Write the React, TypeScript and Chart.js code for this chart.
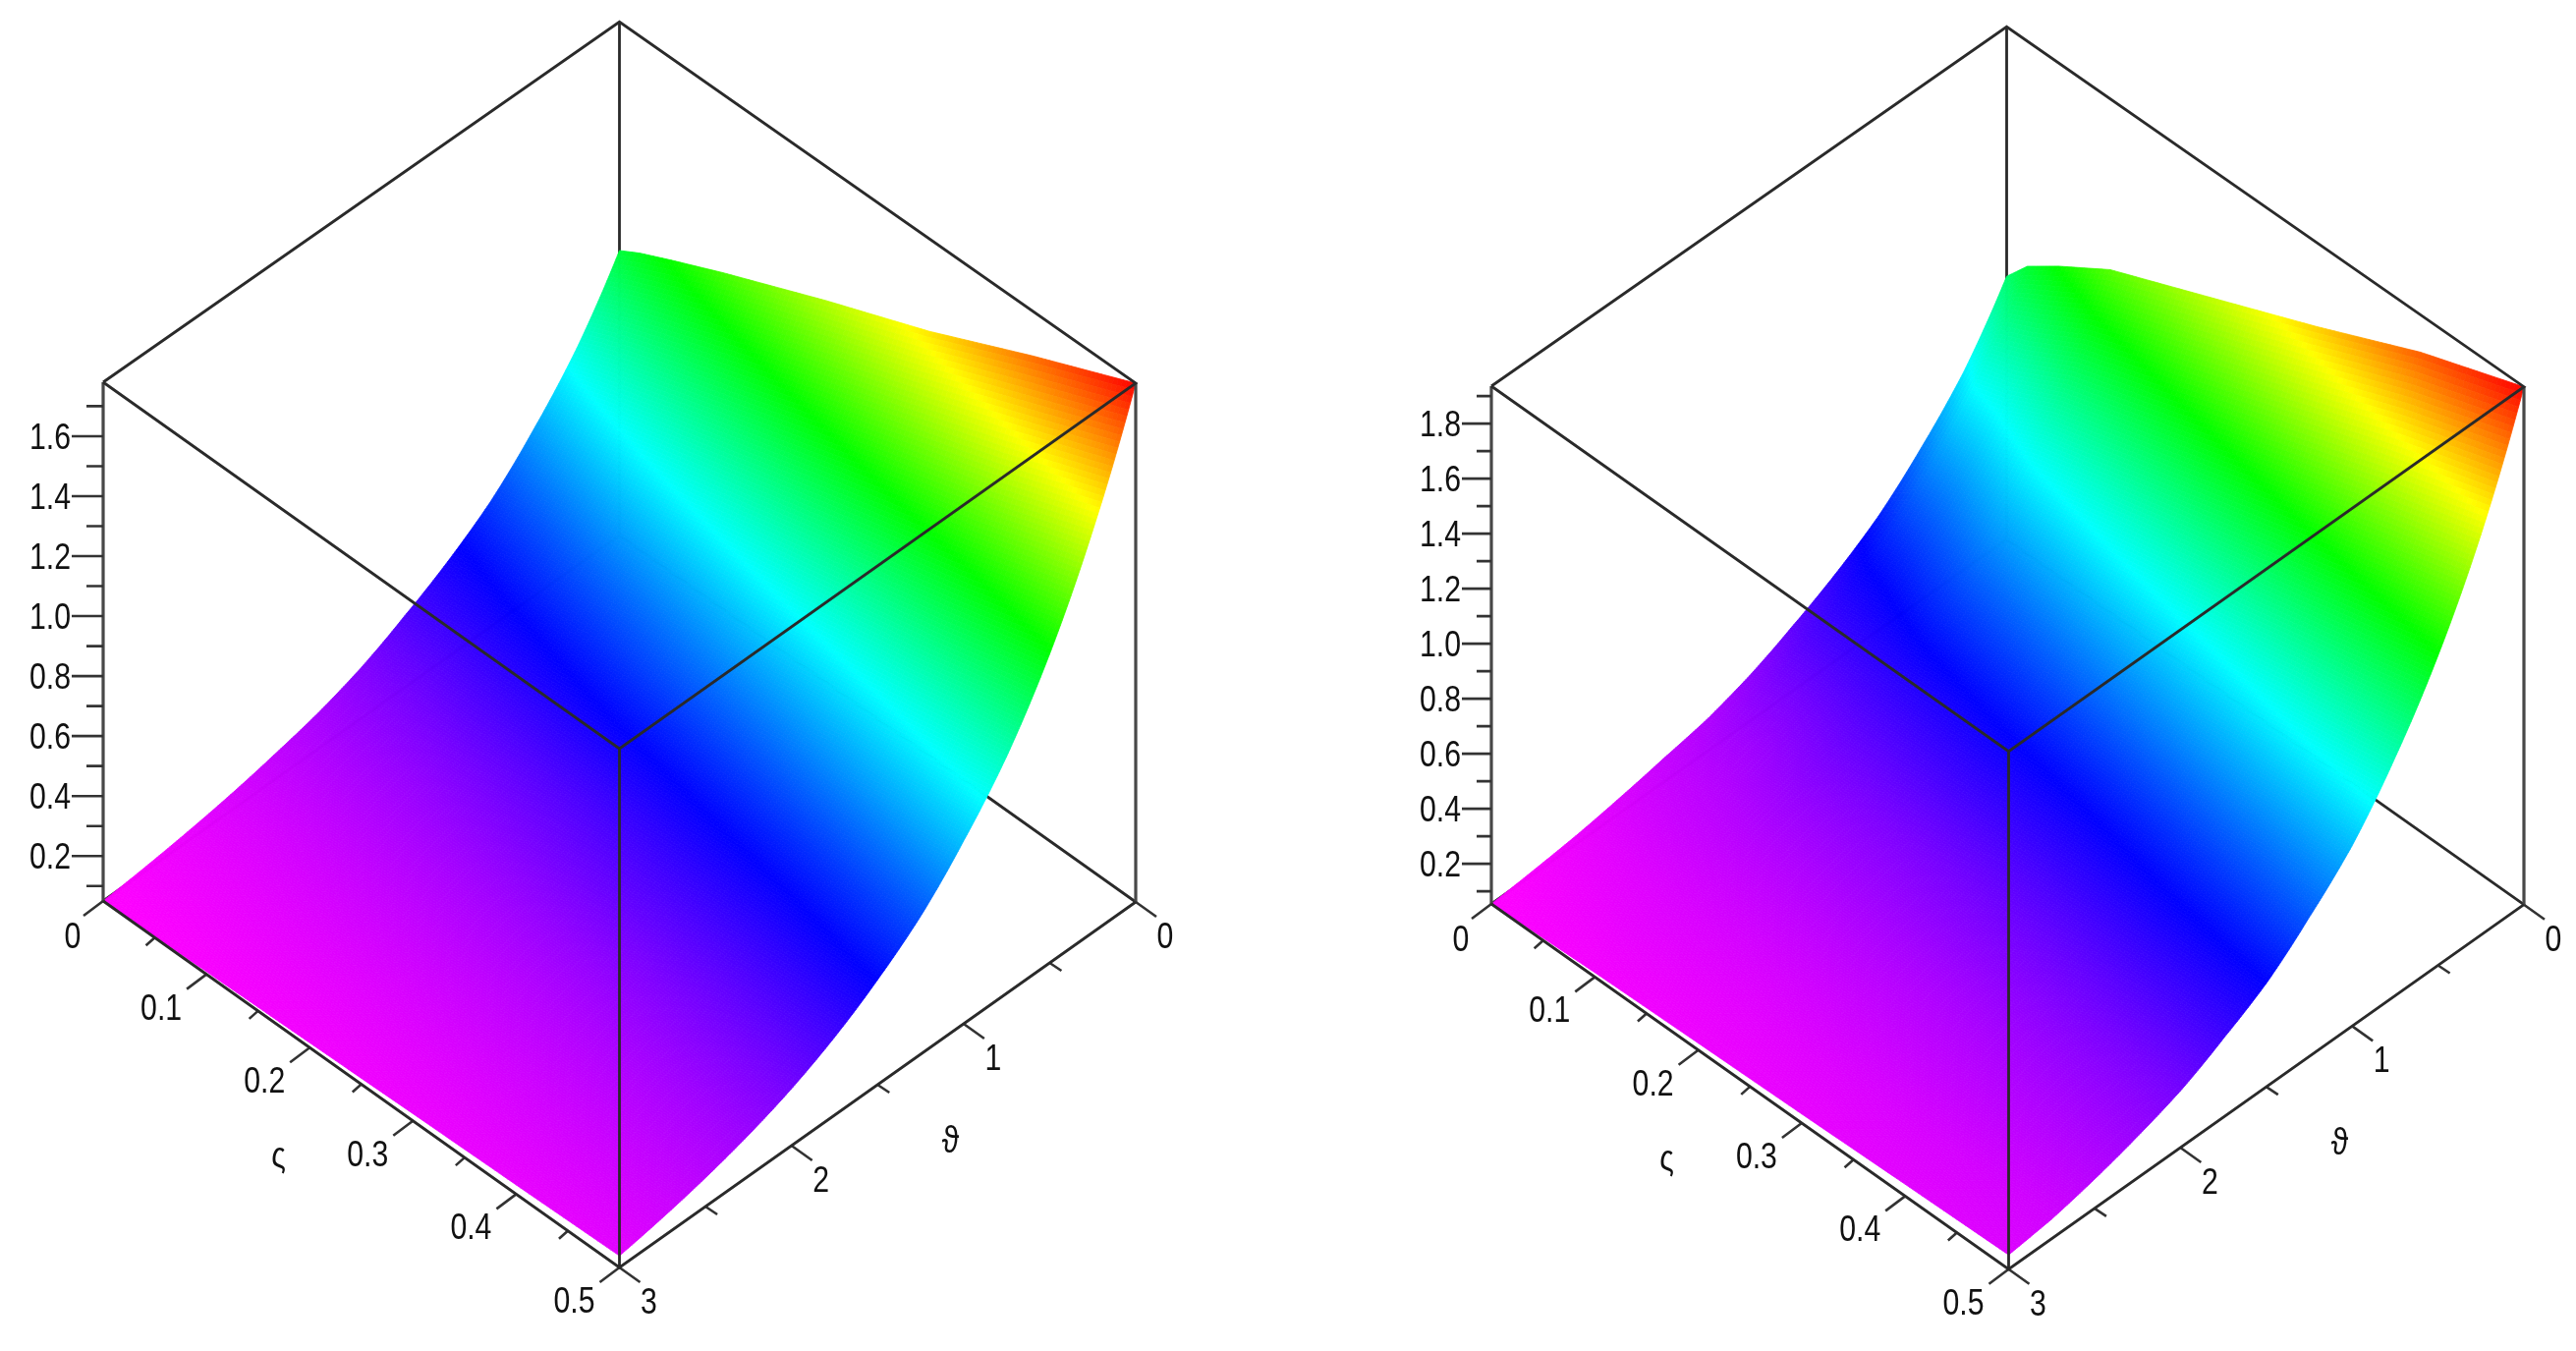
import React, { useEffect, useRef } from "react";
import { Chart, registerables } from "chart.js";

Chart.register(...registerables);

// ---- Data ----
const thetaGrid = [0, 0.25, 0.5, 0.75, 1, 1.25, 1.5, 1.75, 2, 2.25, 2.5, 2.75, 3];
const zetaGrid = [0, 0.02, 0.05, 0.1, 0.2, 0.3, 0.4, 0.5];

const leftSurface = [
  [1.01, 1.05, 1.1, 1.18, 1.33, 1.47, 1.63, 1.78],
  [0.78, 0.81, 0.85, 0.91, 1.03, 1.15, 1.26, 1.39],
  [0.61, 0.63, 0.66, 0.71, 0.8, 0.89, 0.98, 1.08],
  [0.47, 0.49, 0.51, 0.55, 0.62, 0.69, 0.76, 0.84],
  [0.37, 0.38, 0.4, 0.43, 0.49, 0.54, 0.6, 0.66],
  [0.29, 0.3, 0.31, 0.335, 0.38, 0.42, 0.46, 0.51],
  [0.22, 0.23, 0.24, 0.26, 0.29, 0.33, 0.36, 0.4],
  [0.17, 0.18, 0.19, 0.2, 0.23, 0.26, 0.28, 0.31],
  [0.135, 0.14, 0.147, 0.158, 0.178, 0.198, 0.219, 0.24],
  [0.105, 0.109, 0.114, 0.123, 0.139, 0.154, 0.17, 0.187],
  [0.082, 0.085, 0.089, 0.096, 0.108, 0.121, 0.133, 0.146],
  [0.064, 0.067, 0.07, 0.075, 0.084, 0.094, 0.104, 0.114],
  [0.05, 0.052, 0.054, 0.059, 0.066, 0.074, 0.081, 0.089],
];

const rightSurface = [
  [1.02, 1.11, 1.19, 1.31, 1.47, 1.63, 1.8, 1.936],
  [0.78, 0.86, 0.9, 1.0, 1.13, 1.26, 1.39, 1.51],
  [0.61, 0.67, 0.7, 0.78, 0.88, 0.98, 1.08, 1.18],
  [0.47, 0.52, 0.55, 0.61, 0.69, 0.76, 0.84, 0.92],
  [0.37, 0.405, 0.43, 0.48, 0.54, 0.6, 0.66, 0.71],
  [0.29, 0.32, 0.34, 0.37, 0.42, 0.46, 0.51, 0.56],
  [0.22, 0.245, 0.26, 0.29, 0.33, 0.36, 0.4, 0.43],
  [0.17, 0.19, 0.2, 0.23, 0.25, 0.28, 0.31, 0.34],
  [0.14, 0.15, 0.16, 0.18, 0.2, 0.22, 0.24, 0.26],
  [0.11, 0.12, 0.13, 0.14, 0.155, 0.17, 0.19, 0.205],
  [0.085, 0.093, 0.1, 0.11, 0.12, 0.135, 0.15, 0.16],
  [0.068, 0.073, 0.08, 0.09, 0.095, 0.105, 0.115, 0.125],
  [0.054, 0.059, 0.063, 0.07, 0.079, 0.087, 0.097, 0.106],
];

const zetaMajor = [0, 0.1, 0.2, 0.3, 0.4, 0.5];
const zetaMinor = [0.05, 0.15, 0.25, 0.35, 0.45];
const thetaMajor = [0, 1, 2, 3];
const thetaMinor = [0.5, 1.5, 2.5];

const leftZMajor = [0.2, 0.4, 0.6, 0.8, 1.0, 1.2, 1.4, 1.6];
const leftZMinor = [0.1, 0.3, 0.5, 0.7, 0.9, 1.1, 1.3, 1.5, 1.7];
const rightZMajor = [0.2, 0.4, 0.6, 0.8, 1.0, 1.2, 1.4, 1.6, 1.8];
const rightZMinor = [0.1, 0.3, 0.5, 0.7, 0.9, 1.1, 1.3, 1.5, 1.7, 1.9];

const leftRange = [0.05, 1.78];
const rightRange = [0.054, 1.936];

// ---- View of each box (projection onto the chart's scales) ----
const VIEW_W = 1311;
const VIEW_H = 1375;
const leftView = { ax: 105, ay: 917, bx: 630.5, by: 1290, cx: 1156, cy: 918, height: 528, zTick: 32, zMinor: 17, zLabel: 33 };
const rightView = { ax: 207, ay: 920, bx: 733.5, by: 1291.7, cx: 1258, cy: 920.7, height: 527, zTick: 30, zMinor: 15, zLabel: 31 };

type View = typeof leftView;
type Pt = { x: number; y: number };

function makeProject(v: View, range: number[]) {
  const scale = v.height / (range[1] - range[0]);
  return (zeta: number, theta: number, z: number): Pt => {
    const u = zeta / 0.5;
    const t = 1 - theta / 3;
    const back = 1 - 0.01 * (1 - u) * t;
    return {
      x: v.ax + (v.bx - v.ax) * u + (v.cx - v.bx) * t,
      y: v.ay + (v.by - v.ay) * u + (v.cy - v.by) * t - scale * (z - range[0]) * back,
    };
  };
}

const GAP = { x: NaN, y: NaN };

function hueColor(z: number, range: number[]) {
  const f = Math.min(1, Math.max(0, (z - range[0]) / (range[1] - range[0])));
  return `hsl(${300 * (1 - f)}, 100%, 50%)`;
}

function drawLabel(ctx: CanvasRenderingContext2D, text: string, x: number, y: number, align: "center" | "right", size = 36) {
  ctx.save();
  ctx.translate(x, y);
  ctx.scale(0.84, 1);
  ctx.font = `${size}px "Liberation Sans", sans-serif`;
  ctx.fillStyle = "#111";
  ctx.textAlign = align;
  ctx.textBaseline = "alphabetic";
  ctx.fillText(text, 0, size * 0.36);
  ctx.restore();
}

function buildConfig(view: View, range: number[], table: number[][], zMajor: number[], zMinor: number[]) {
  const project = makeProject(view, range);
  const [zLo, zHi] = range;
  const seg = (...pts: Pt[]) => pts;

  const backEdges = [
    ...seg(project(0, 0, zLo), project(0, 0, zHi)),
    GAP,
    ...seg(project(0.5, 0, zLo), project(0, 0, zLo), project(0, 3, zLo)),
  ];
  const frontEdges = [
    ...seg(project(0, 3, zHi), project(0, 0, zHi), project(0.5, 0, zHi), project(0.5, 3, zHi), project(0, 3, zHi)),
    GAP,
    ...seg(project(0.5, 3, zHi), project(0.5, 3, zLo)),
    GAP,
    ...seg(project(0, 3, zLo), project(0.5, 3, zLo), project(0.5, 0, zLo)),
  ];
  const sideEdges = [
    ...seg(project(0, 3, zLo), project(0, 3, zHi)),
    GAP,
    ...seg(project(0.5, 0, zLo), project(0.5, 0, zHi)),
  ];

  const ticks: Pt[] = [];
  const offset = (p: Pt, dx: number, dy: number) => ({ x: p.x + dx, y: p.y + dy });
  zetaMajor.forEach((s) => { const p = project(s, 3, zLo); ticks.push(p, offset(p, -20, 15), GAP); });
  zetaMinor.forEach((s) => { const p = project(s, 3, zLo); ticks.push(p, offset(p, -9, 8), GAP); });
  thetaMajor.forEach((t) => { const p = project(0.5, t, zLo); ticks.push(p, offset(p, 21, 15), GAP); });
  thetaMinor.forEach((t) => { const p = project(0.5, t, zLo); ticks.push(p, offset(p, 12, 8), GAP); });
  zMajor.forEach((z) => { const p = project(0, 3, z); ticks.push(p, offset(p, -view.zTick, 0), GAP); });
  zMinor.forEach((z) => { const p = project(0, 3, z); ticks.push(p, offset(p, -view.zMinor, 0), GAP); });

  const nodes: Pt[] = [];
  thetaGrid.forEach((t, i) => zetaGrid.forEach((s, j) => nodes.push(project(s, t, table[i][j]))));

  const surfacePlugin = {
    id: "surfaceShade",
    afterDatasetDraw(chart: any, args: any) {
      if (args.index !== 1) return;
      const { ctx, scales } = chart;
      const px = (p: Pt) => ({ x: scales.x.getPixelForValue(p.x), y: scales.y.getPixelForValue(p.y) });
      const subTheta = 24;
      ctx.save();
      ctx.lineWidth = 0.8;
      for (let i = 0; i < thetaGrid.length - 1; i++) {
        for (let j = 0; j < zetaGrid.length - 1; j++) {
          const [t0, t1] = [thetaGrid[i], thetaGrid[i + 1]];
          const [s0, s1] = [zetaGrid[j], zetaGrid[j + 1]];
          const subZeta = Math.max(2, Math.round((s1 - s0) * 240));
          // shading across one cell: geometric along theta, straight along zeta
          const at = (a: number, b: number) => {
            const near = (1 - b) * table[i][j] + b * table[i][j + 1];
            const far = (1 - b) * table[i + 1][j] + b * table[i + 1][j + 1];
            const z = Math.pow(near, 1 - a) * Math.pow(far, a);
            return { z, p: px(project(s0 + (s1 - s0) * b, t0 + (t1 - t0) * a, z)) };
          };
          for (let a = 0; a < subTheta; a++) {
            for (let b = 0; b < subZeta; b++) {
              const q = [
                at(a / subTheta, b / subZeta),
                at(a / subTheta, (b + 1) / subZeta),
                at((a + 1) / subTheta, (b + 1) / subZeta),
                at((a + 1) / subTheta, b / subZeta),
              ];
              const col = hueColor((q[0].z + q[1].z + q[2].z + q[3].z) / 4, range);
              ctx.fillStyle = col;
              ctx.strokeStyle = col;
              ctx.beginPath();
              ctx.moveTo(q[0].p.x, q[0].p.y);
              for (let k = 1; k < 4; k++) ctx.lineTo(q[k].p.x, q[k].p.y);
              ctx.closePath();
              ctx.fill();
              ctx.stroke();
            }
          }
        }
      }
      ctx.restore();
    },
    afterDraw(chart: any) {
      const { ctx, scales } = chart;
      const px = (p: Pt) => ({ x: scales.x.getPixelForValue(p.x), y: scales.y.getPixelForValue(p.y) });
      zMajor.forEach((z) => {
        const p = px(project(0, 3, z));
        drawLabel(ctx, z.toFixed(1), p.x - view.zLabel, p.y, "right");
      });
      const zetaOff = (s: number) => (s === 0 ? { dx: -31, dy: 35 } : { dx: -46, dy: 33 });
      zetaMajor.forEach((s) => {
        const p = px(project(s, 3, zLo));
        const o = zetaOff(s);
        drawLabel(ctx, String(s), p.x + o.dx, p.y + o.dy, "center");
      });
      thetaMajor.forEach((t) => {
        const p = px(project(0.5, t, zLo));
        drawLabel(ctx, String(t), p.x + 30, p.y + 34, "center");
      });
      const a = px(project(0, 3, zLo));
      const b = px(project(0.5, 3, zLo));
      drawLabel(ctx, "ς", a.x + 178.5, a.y + 258.5, "center", 36);
      drawLabel(ctx, "ϑ", b.x + 337, b.y - 130.5, "center", 38);
    },
  };

  const line = (label: string, data: Pt[], order: number, width = 2.8, color = "#2a2a2a") => ({
    label,
    data,
    showLine: true,
    spanGaps: false,
    borderColor: color,
    borderWidth: width,
    pointRadius: 0,
    tension: 0,
    order,
    clip: false,
  });

  return {
    type: "scatter" as const,
    data: {
      datasets: [
        line("box back", backEdges, 4),
        { label: "surface", data: nodes, pointRadius: 0, showLine: false, order: 3, clip: false },
        line("box side", sideEdges, 2, 3.2, "#484848"),
        line("box front", frontEdges, 1),
        line("ticks", ticks, 1, 2.6, "#333"),
      ],
    },
    options: {
      responsive: false,
      animation: false as const,
      devicePixelRatio: 1,
      layout: { padding: 0 },
      plugins: { legend: { display: false }, tooltip: { enabled: false } },
      scales: {
        x: { type: "linear" as const, min: 0, max: VIEW_W, display: false },
        y: { type: "linear" as const, min: 0, max: VIEW_H, reverse: true, display: false },
      },
    },
    plugins: [surfacePlugin],
  };
}

function Panel({ left, build }: { left: number; build: () => any }) {
  const ref = useRef<HTMLCanvasElement>(null);
  useEffect(() => {
    const chart = new Chart(ref.current!, build());
    return () => chart.destroy();
  }, []);
  return <canvas ref={ref} width={VIEW_W} height={VIEW_H} style={{ position: "absolute", left, top: 0, display: "block" }} />;
}

export default function App() {
  return (
    <div style={{ position: "absolute", left: 0, top: 0, width: 2622, height: 1375, background: "#fff", overflow: "hidden" }}>
      <Panel left={0} build={() => buildConfig(leftView, leftRange, leftSurface, leftZMajor, leftZMinor)} />
      <Panel left={VIEW_W} build={() => buildConfig(rightView, rightRange, rightSurface, rightZMajor, rightZMinor)} />
    </div>
  );
}
